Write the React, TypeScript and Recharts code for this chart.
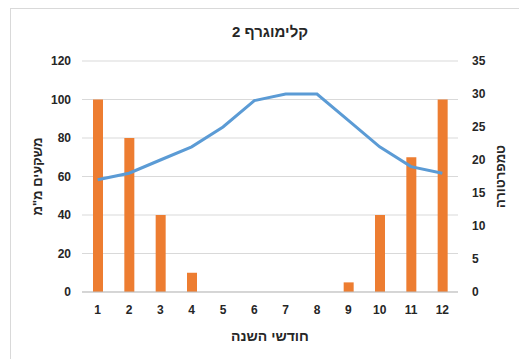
import React from 'react';
import {
  ComposedChart,
  Bar,
  Line,
  XAxis,
  YAxis,
  CartesianGrid,
} from 'recharts';

// monthly climate data
const months = ['1', '2', '3', '4', '5', '6', '7', '8', '9', '10', '11', '12'];
const rainfall = [100, 80, 40, 10, 0, 0, 0, 0, 5, 40, 70, 100];
const temperature = [17, 18, 20, 22, 25, 29, 30, 30, 26, 22, 19, 18];
const rainTicks = [0, 20, 40, 60, 80, 100, 120];
const tempTicks = [0, 5, 10, 15, 20, 25, 30, 35];

const data = months.map((m, i) => ({
  month: m,
  rain: rainfall[i],
  temp: temperature[i],
}));

const FONT = '"Liberation Sans", Arial, sans-serif';
const tickStyle = { fontSize: 12, fontWeight: 700, fill: '#262626', fontFamily: FONT };

const SideTitle = ({ viewBox, value, dx }: any) => {
  const cx = viewBox.x + dx;
  const cy = viewBox.y + viewBox.height / 2;
  return (
    <text
      x={cx}
      y={cy}
      transform={`rotate(-90, ${cx}, ${cy})`}
      textAnchor="middle"
      dominantBaseline="central"
      style={{ fontSize: 13, fontWeight: 700, fill: '#262626', fontFamily: FONT }}
    >
      {value}
    </text>
  );
};

const App: React.FC = () => {
  return (
    <div style={{ position: 'absolute', left: 0, top: 0, width: 519, height: 359, overflow: 'hidden', background: '#fff' }}>
      <div
        style={{
          position: 'absolute',
          left: 10,
          top: 8,
          width: 530,
          height: 370,
          border: '1px solid #d9d9d9',
        }}
      />
      <div
        style={{
          position: 'absolute',
          left: 0,
          top: 23,
          width: 540,
          textAlign: 'center',
          fontFamily: FONT,
          fontWeight: 700,
          fontSize: 15,
          color: '#262626',
          direction: 'rtl',
        }}
      >
        קלימוגרף 2
      </div>
      <div style={{ position: 'absolute', left: 0, top: 0 }}>
        <ComposedChart
          width={519}
          height={359}
          data={data}
          margin={{ top: 61, right: 0, bottom: 0, left: 0 }}
          barSize={10}
        >
          <CartesianGrid vertical={false} stroke="#d9d9d9" yAxisId="rain" />
          <XAxis
            dataKey="month"
            height={67}
            tickLine={false}
            axisLine={{ stroke: '#bfbfbf' }}
            tick={tickStyle}
            tickMargin={7}
            interval={0}
            label={{
              value: 'חודשי  השנה',
              position: 'insideBottom',
              offset: 18,
              style: { fontSize: 14, fontWeight: 700, fill: '#262626', fontFamily: FONT, direction: 'rtl' },
            }}
          />
          <YAxis
            yAxisId="rain"
            orientation="left"
            width={82}
            domain={[0, 120]}
            ticks={rainTicks}
            tickLine={false}
            axisLine={false}
            tick={tickStyle}
            tickMargin={5}
            label={<SideTitle value='משקעים  מ"מ' dx={37} />}
          />
          <YAxis
            yAxisId="temp"
            orientation="right"
            width={61}
            domain={[0, 35]}
            ticks={tempTicks}
            tickLine={false}
            axisLine={false}
            tick={{ ...tickStyle, textAnchor: 'start' }}
            tickMargin={8}
            label={<SideTitle value="טמפרטורה" dx={42} />}
          />
          <Bar yAxisId="rain" dataKey="rain" fill="#ED7D31" isAnimationActive={false} />
          <Line
            yAxisId="temp"
            type="linear"
            dataKey="temp"
            stroke="#5B9BD5"
            strokeWidth={3}
            dot={false}
            isAnimationActive={false}
          />
        </ComposedChart>
      </div>
    </div>
  );
};

export default App;
